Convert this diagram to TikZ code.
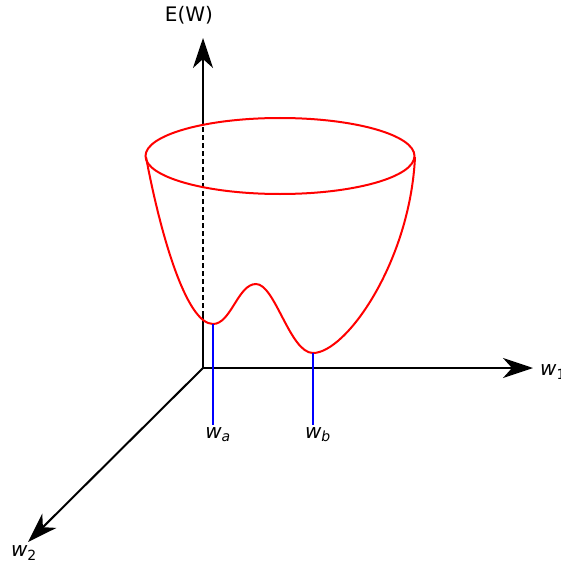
\documentclass[tikz,border=0pt]{standalone}
\usepackage{fontspec}
\setmainfont{DejaVu Sans}
\usetikzlibrary{arrows.meta}
\begin{document}
\begin{tikzpicture}[x=1pt,y=-1pt,
  axis/.style={line width=2pt,black},
  bigarrow/.style={-{Stealth[length=30pt,width=20pt,inset=9pt]}},
  bowl/.style={line width=2pt,red},
  guide/.style={line width=2pt,blue},
  lbl/.style={inner sep=0pt,font=\fontsize{20}{24}\selectfont}]
\useasboundingbox (0,0) rectangle (561,567);
% axis points
\coordinate (O) at (203,368);
\coordinate (Ebot) at (203,316);
\coordinate (Etop) at (203,124);
\coordinate (Etip) at (203,38);
\coordinate (W1) at (533,368);
\coordinate (W2) at (28,542);
% axes
\draw[axis] (O) -- (Ebot);
\draw[axis,dash pattern=on 5pt off 3pt] (Ebot) -- (Etop);
\draw[axis,bigarrow] (Etop) -- (Etip);
\draw[axis,bigarrow] (O) -- (W1);
\draw[axis,bigarrow] (O) -- (W2);
% bowl
\coordinate (L) at (146,157);
\coordinate (R) at (415,157);
\coordinate (Ma) at (213,324);
\coordinate (P) at (256,284);
\coordinate (Mb) at (313,353);
\draw[bowl] (280,156) ellipse [x radius=134.5, y radius=38];
\draw[bowl] (L) .. controls (160,232) and (186,324) .. (Ma)
  .. controls (231,324) and (238,284) .. (P)
  .. controls (275,284) and (290,353) .. (Mb)
  .. controls (346,353) and (410,262) .. (R);
% guides
\coordinate (Ga) at (213,425);
\coordinate (Gb) at (313,425);
\draw[guide] (Ma) -- (Ga);
\draw[guide] (Mb) -- (Gb);
% labels
\node[lbl,anchor=north] (la) at (Ga) [yshift=-2pt,xshift=5pt] {\itshape w\textsubscript{a}};
\node[lbl,anchor=north] (lb) at (Gb) [yshift=-2pt,xshift=5pt] {\itshape w\textsubscript{b}};
\node[lbl] (lE) at (189,15) {E(W)};
\node[lbl,anchor=west] (l1) at (540,372) {{\itshape w}\textsubscript{1}};
\node[lbl] (l2) at (24,553) {{\itshape w}\textsubscript{2}};
\end{tikzpicture}
\end{document}
